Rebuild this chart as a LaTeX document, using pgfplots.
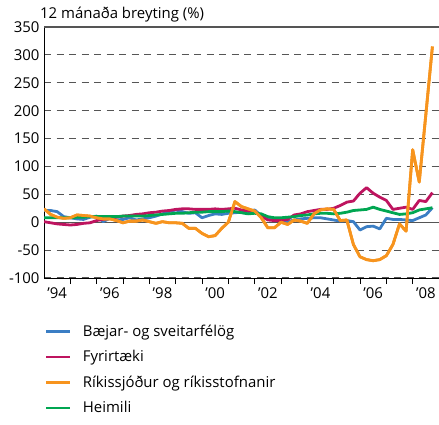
\documentclass[border=0pt]{standalone}
\usepackage{fontspec}
\setmainfont{Open Sans}
\usepackage{pgfplots}
\usepackage{pgfplotstable}
\pgfplotsset{compat=1.18}
\definecolor{cblue}{HTML}{3B7EC4}
\definecolor{cmag}{HTML}{BE145F}
\definecolor{corange}{HTML}{F7941E}
\definecolor{cgreen}{HTML}{00A651}
\definecolor{cgrid}{HTML}{555555}
\pgfplotstableread{
t b f r h
1994.00 21 1 24 8
1994.25 21 -1 14 8
1994.50 19 -3 9 8
1994.75 10 -4 7 8
1995.00 8 -5 8 8
1995.25 6 -4 13 9
1995.50 5 -2 12 9
1995.75 9 -1 11 10
1996.00 11 3 8 10
1996.25 1 5 6 10
1996.50 7 7 6 10
1996.75 4 9 3 10
1997.00 5 11 -1 11
1997.25 8 12 2 11
1997.50 4 14 2 11
1997.75 6 15 4 11
1998.00 8 17 1 12
1998.25 11 18 -2 13
1998.50 15 20 1 14
1998.75 19 21 -1 15
1999.00 22 23 -1 16
1999.25 19 24 -2 16
1999.50 16 24 -11 17
1999.75 17 23 -11 18
2000.00 8 23 -20 18
2000.25 12 23 -26 19
2000.50 15 24 -24 19
2000.75 14 23 -11 19
2001.00 16 24 0 20
2001.25 17 25 37 19
2001.50 18 22 28 17
2001.75 19 20 24 15
2002.00 22 19 20 16
2002.25 12 11 8 15
2002.50 6 4 -10 10
2002.75 4 3 -10 8
2003.00 2 3 0 8
2003.25 1 5 -4 9
2003.50 4 13 4 10
2003.75 6 15 2 12
2004.00 7 19 -2 13
2004.25 8 21 15 15
2004.50 8 23 22 16
2004.75 6 23 24 16
2005.00 4 25 23 15
2005.25 2 30 3 16
2005.50 3 36 4 18
2005.75 1 38 -40 21
2006.00 -14 52 -62 22
2006.25 -8 62 -67 23
2006.50 -7 52 -69 27
2006.75 -12 45 -67 23
2007.00 7 39 -60 20
2007.25 5 23 -40 17
2007.50 5 25 -3 14
2007.75 4 27 -16 15
2008.00 3 23 130 17
2008.25 8 39 72 22
2008.50 13 37 193 24
2008.75 26 53 315 26
}\datatable
\begin{document}
\begin{tikzpicture}
\begin{axis}[
  name=ax,
  scale only axis,
  width=395bp, height=251bp,
  xmin=1994, xmax=2009,
  ymin=-100, ymax=350,
  axis x line*=bottom,
  axis y line*=left,
  axis line style={line width=0.9bp, black},
  ytick={-100,-50,...,350},
  ymajorgrids,
  major grid style={cgrid, line width=1.1bp, dash pattern=on 7bp off 5.5bp},
  extra y ticks={0,350},
  extra y tick labels={},
  extra y tick style={grid=major, major grid style={cgrid, line width=1.1bp, solid}, major tick length=0pt},
  xtick={1994.5,1996.5,...,2008.5},
  xticklabels={'94,'96,'98,'00,'02,'04,'06,'08},
  minor xtick={1995,1996,...,2008},
  tick align=outside,
  major tick length=0pt,
  minor tick length=6bp,
  minor tick style={line width=0.9bp, black},
  xtick pos=bottom,
  ytick pos=left,
  /pgf/number format/assume math mode=true,
  yticklabel style={font=\fontsize{15}{17}\selectfont, xshift=-1bp},
  xticklabel style={font=\fontsize{15}{17}\selectfont, yshift=-6bp},
  legend cell align=left,
  legend style={at={(0,0)}, anchor=north west, xshift=-2bp, yshift=-43bp,
    draw=none, fill=none, font=\fontsize{15}{17}\selectfont, row sep=8.5bp},
  legend image code/.code={\draw[#1, line width=2.6bp] (0bp,0bp) -- (24bp,0bp); \path (33bp,0bp);},
  every axis plot/.append style={line width=2.8bp, line join=round},
]
\addplot[cblue] table[x=t,y=b] {\datatable};
\addlegendentry{Bæjar- og sveitarfélög}
\addplot[cmag] table[x=t,y=f] {\datatable};
\addlegendentry{Fyrirtæki}
\addplot[corange] table[x=t,y=r] {\datatable};
\addlegendentry{Ríkissjóður og ríkisstofnanir}
\addplot[cgreen] table[x=t,y=h] {\datatable};
\addlegendentry{Heimili}
\addplot[corange, forget plot] table[x=t,y=r] {\datatable};
\end{axis}
\node[anchor=base west, font=\fontsize{15}{17}\selectfont, inner sep=0pt] at ([xshift=-4bp, yshift=9bp]ax.north west) {12 mánaða breyting (\%)};
\pgfresetboundingbox
\useasboundingbox ([xshift=-44bp, yshift=-147bp]ax.south west) rectangle ([yshift=27bp]ax.north east);
\end{tikzpicture}
\end{document}
